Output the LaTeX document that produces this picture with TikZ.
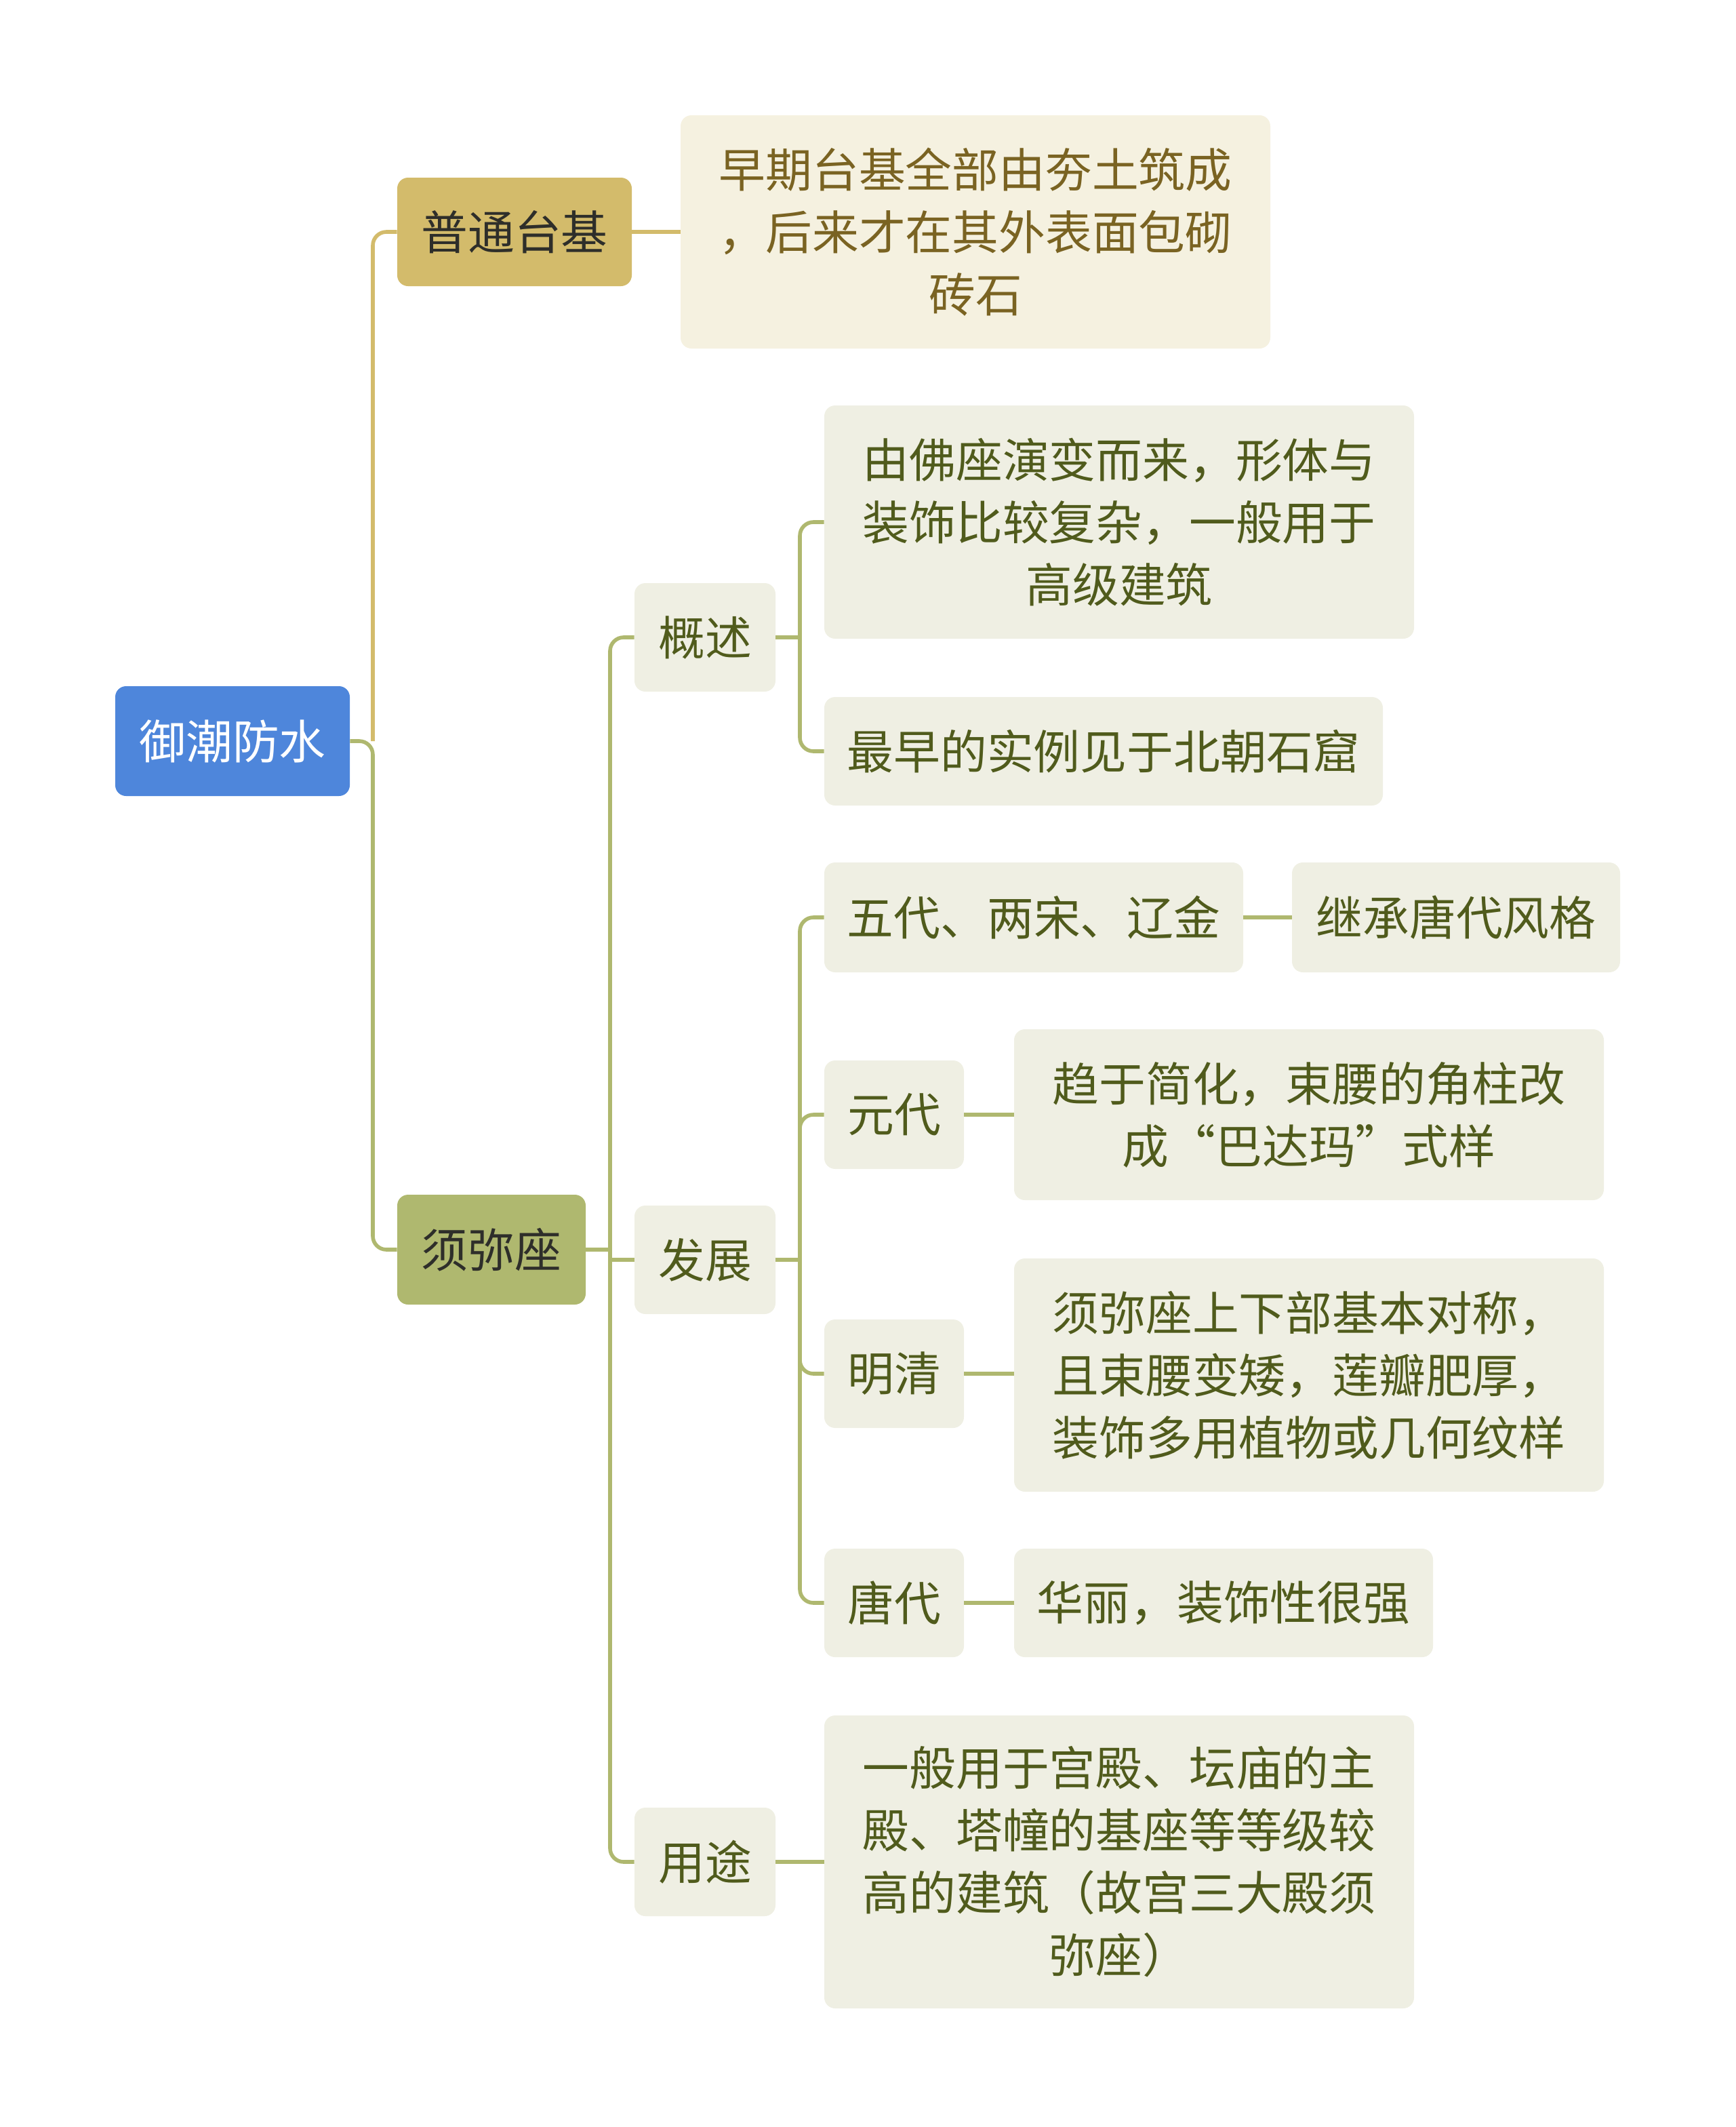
\documentclass[tikz,border=0pt]{standalone}
\usepackage{fontspec}
\setmainfont{Noto Sans CJK SC}
\definecolor{rootblue}{HTML}{4E86DB}
\definecolor{goldc}{HTML}{D3BB6B}
\definecolor{olivec}{HTML}{AFB86F}
\definecolor{creamc}{HTML}{F5F1E0}
\definecolor{paleol}{HTML}{EFEFE3}
\definecolor{browntx}{HTML}{7A6322}
\definecolor{olivetx}{HTML}{505B1C}
\definecolor{darktx}{HTML}{2E2E2A}
\newcommand\tnode[7]{%
  \node[#6, minimum width={(#4)-(#2)}, minimum height={(#5)-(#3)}] (#1) at ({((#2)+(#4))/2},{((#3)+(#5))/2}) {#7};}
\begin{document}
\begin{tikzpicture}[x=1pt,y=-1pt,
  base/.style={rounded corners=8pt, inner sep=0pt, align=center,
    font=\fontsize{34.4}{46}\selectfont},
  rootbox/.style={base, fill=rootblue, text=white},
  goldbox/.style={base, fill=goldc, text=darktx},
  olivebox/.style={base, fill=olivec, text=darktx},
  creambox/.style={base, fill=creamc, text=browntx},
  palebox/.style={base, fill=paleol, text=olivetx},
  goldline/.style={draw=goldc, line width=2.8pt, rounded corners=10pt},
  oliveline/.style={draw=olivec, line width=2.8pt, rounded corners=10pt}]
\useasboundingbox (0,0) rectangle (1280,1568.5);

\tnode{root}{85}{506}{258}{587}{rootbox}{御潮防水}
\tnode{ptjb}{293}{131}{466}{211}{goldbox}{普通台基}
\tnode{xmz}{293}{881}{432}{962}{olivebox}{须弥座}
\tnode{ptd}{502}{85}{937}{257}{creambox}{早期台基全部由夯土筑成\\，后来才在其外表面包砌\\砖石}

\tnode{gs}{468}{430}{572}{510}{palebox}{概述}
\tnode{gsa}{608}{299}{1043}{471}{palebox}{由佛座演变而来，形体与\\装饰比较复杂，一般用于\\高级建筑}
\tnode{gsb}{608}{514}{1020}{594}{palebox}{最早的实例见于北朝石窟}

\tnode{fz}{468}{889}{572}{969}{palebox}{发展}
\tnode{wd}{608}{636}{917}{717}{palebox}{五代、两宋、辽金}
\tnode{wdd}{953}{636}{1195}{717}{palebox}{继承唐代风格}
\tnode{yd}{608}{782}{711}{862}{palebox}{元代}
\tnode{ydd}{748}{759}{1183}{885}{palebox}{趋于简化，束腰的角柱改\\成“巴达玛”式样}
\tnode{mq}{608}{973}{711}{1053}{palebox}{明清}
\tnode{mqd}{748}{928}{1183}{1100}{palebox,align=left}{须弥座上下部基本对称，\\且束腰变矮，莲瓣肥厚，\\装饰多用植物或几何纹样}
\tnode{td}{608}{1142}{711}{1222}{palebox}{唐代}
\tnode{tdd}{748}{1142}{1057}{1222}{palebox}{华丽，装饰性很强}

\tnode{yt}{468}{1333}{572}{1413}{palebox}{用途}
\tnode{ytd}{608}{1265}{1043}{1481}{palebox}{一般用于宫殿、坛庙的主\\殿、塔幢的基座等等级较\\高的建筑（故宫三大殿须\\弥座）}

\coordinate (j1) at (275,546.5);
\coordinate (j2) at (450,921.5);
\coordinate (j3) at (590,470);
\coordinate (j4) at (590,929);

\draw[goldline] (j1) |- (ptjb.west);
\draw[goldline] (ptjb.east) -- (ptd.west);
\draw[oliveline] (root.east) -- (j1) |- (xmz.west);

\draw[oliveline] (xmz.east) -- (j2);
\draw[oliveline] (j2) |- (gs.west);
\draw[oliveline] (j2) |- (yt.west);
\draw[oliveline] (j2 |- fz.west) -- (fz.west);

\draw[oliveline] (gs.east) -- (j3);
\draw[oliveline] (j3) |- (gsa.west);
\draw[oliveline] (j3) |- (gsb.west);

\draw[oliveline] (fz.east) -- (j4);
\draw[oliveline] (j4) |- (wd.west);
\draw[oliveline] (j4) |- (yd.west);
\draw[oliveline] (j4) |- (mq.west);
\draw[oliveline] (j4) |- (td.west);

\draw[oliveline] (yt.east) -- (ytd.west |- yt.east);
\draw[oliveline] (wd.east) -- (wdd.west |- wd.east);
\draw[oliveline] (yd.east) -- (ydd.west |- yd.east);
\draw[oliveline] (mq.east) -- (mqd.west |- mq.east);
\draw[oliveline] (td.east) -- (tdd.west |- td.east);
\end{tikzpicture}
\end{document}
